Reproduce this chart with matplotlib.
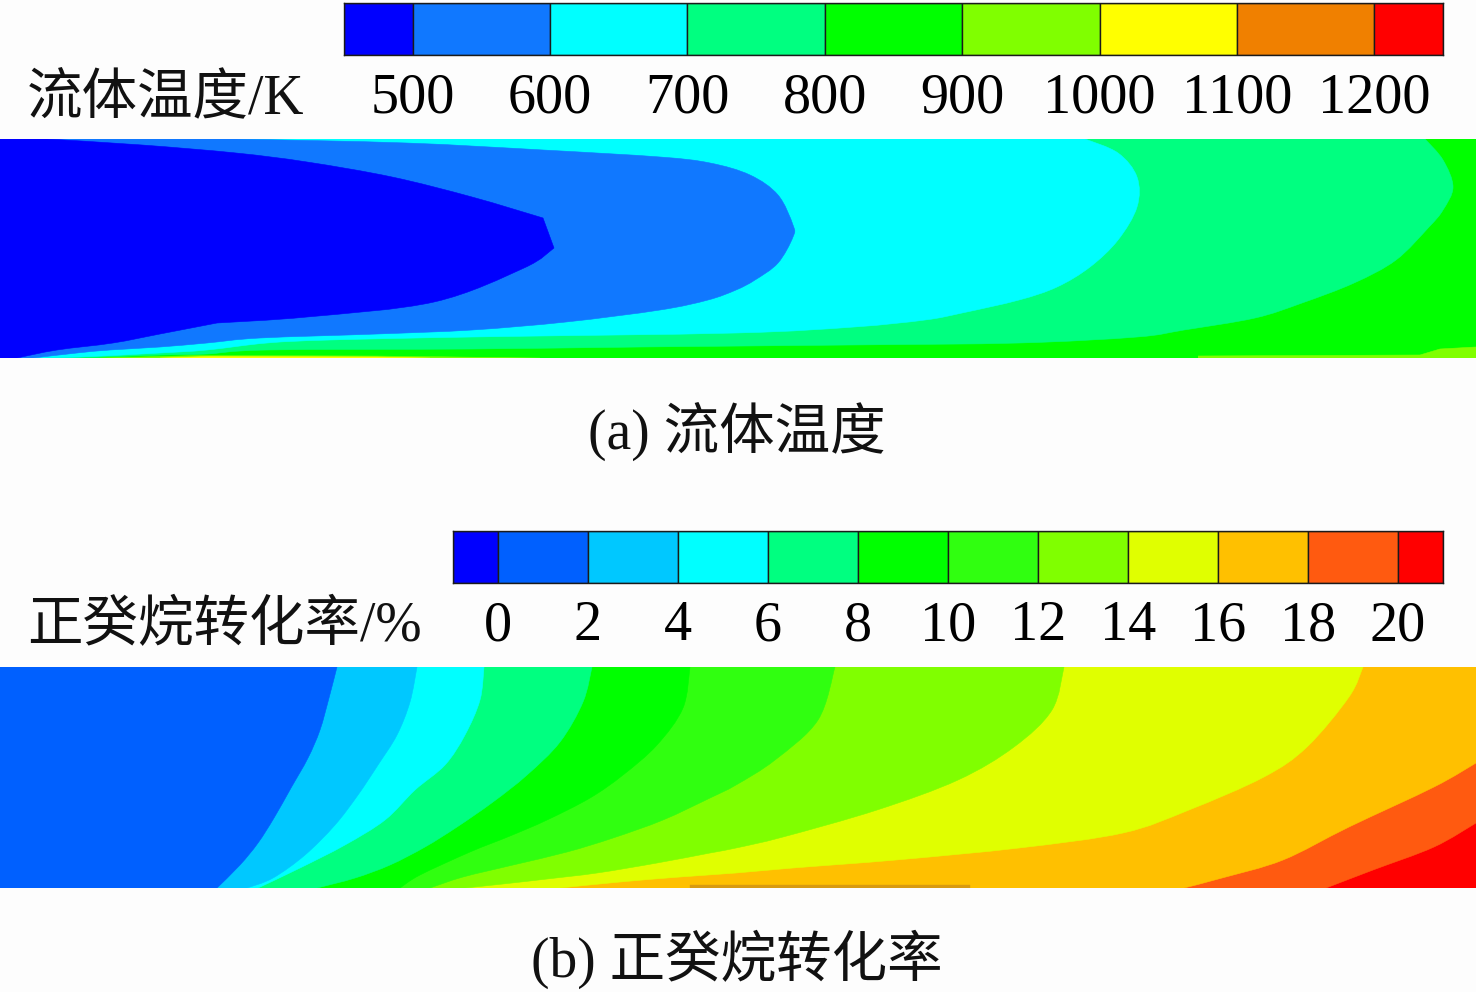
import matplotlib
matplotlib.use("Agg")
import matplotlib.pyplot as plt
from matplotlib.path import Path
from matplotlib.patches import PathPatch

plt.rcParams['font.family'] = ['Liberation Serif', 'Noto Sans CJK SC']

W, H = 1476, 992

# colour scales
temp_levels = [450, 500, 600, 700, 800, 900, 1000, 1100, 1200, 1250]
temp_ticks = [500, 600, 700, 800, 900, 1000, 1100, 1200]
temp_colors = ['#0000ff', '#1078ff', '#00ffff', '#00ff80', '#00ff00',
               '#80ff00', '#ffff00', '#f08000', '#ff0000']

conv_levels = [-1, 0, 2, 4, 6, 8, 10, 12, 14, 16, 18, 20, 21]
conv_ticks = [0, 2, 4, 6, 8, 10, 12, 14, 16, 18, 20]
conv_colors = ['#0000ff', '#0060ff', '#00c8ff', '#00ffff', '#00ff80', '#00ff00',
               '#30ff10', '#80ff00', '#e0ff00', '#ffc000', '#ff5a10', '#ff0000']

# temperature isolines, upper wall to lower wall
t500_up_x = [47, 142, 236, 307, 392, 472, 543]
t500_up_y = [139, 145, 153, 162, 177, 197, 218]
t500_low_x = [554, 524, 434, 307, 217]
t500_low_y = [248, 268, 302, 317, 323]
t500_end_x = [217, 160, 113, 57, 17]
t500_end_y = [323, 334, 343, 350, 358]
t600_x = [236, 406, 543, 660, 710, 750, 778, 793, 793, 778, 755, 736, 708, 660, 566, 472, 377,
          260, 207, 160, 110, 77, 33]
t600_y = [139, 143, 150, 157, 163, 175, 195, 225, 237, 263, 280, 290, 300, 310, 322, 330, 334,
          338, 343, 347, 350, 353, 358]
t700_x = [1085, 1118, 1137, 1137, 1118, 1090, 1057, 1019, 962, 925, 854, 736, 472, 330, 267, 207,
          160, 80, 35]
t700_y = [139, 153, 177, 207, 240, 267, 287, 300, 313, 320, 327, 333, 337, 340, 343, 350,
          353, 357, 358]
t800_x = [1425, 1443, 1453, 1443, 1429, 1396, 1354, 1302, 1255, 1184, 1137, 1019, 849, 640, 472,
          267, 207, 160, 80]
t800_y = [139, 160, 187, 210, 227, 260, 283, 303, 318, 330, 337, 343, 345, 347, 349,
          350, 354, 355, 358]
# thin warm strips along the lower wall
t900_left_x = [100, 200, 377, 540]
t900_left_y = [358, 355.5, 356, 358]
t1000_left_x = [160, 210, 377, 430]
t1000_left_y = [358, 356.5, 357, 358]
t900_right_x = [1198, 1420, 1440, 1476, 1476, 1198]
t900_right_y = [356, 355, 349, 347, 358, 358]

# conversion isolines, upper wall to lower wall
c0_x = [337, 329, 320, 308, 291, 274, 258, 240, 217]
c0_y = [667, 698, 730, 758, 788, 818, 843, 865, 888]
c2_x = [417, 410, 397, 378, 358, 335, 305, 273, 247]
c2_y = [667, 702, 735, 765, 795, 825, 855, 878, 888]
c4_x = [484, 480, 465, 445, 415, 385, 345, 300, 258]
c4_y = [667, 700, 735, 765, 790, 820, 845, 868, 888]
c6_x = [592, 583, 560, 527, 493, 457, 425, 390, 355, 317]
c6_y = [667, 702, 742, 775, 802, 827, 847, 865, 878, 888]
c8_x = [690, 683, 657, 623, 590, 547, 510, 470, 420, 400]
c8_y = [667, 708, 745, 775, 798, 820, 836, 852, 875, 888]
c10_x = [835, 818, 775, 736, 710, 663, 613, 567, 513, 463, 430]
c10_y = [667, 720, 760, 785, 798, 820, 838, 852, 865, 877, 888]
c12_x = [1064, 1052, 1014, 958, 877, 783, 736, 710, 657, 597, 547, 503, 465]
c12_y = [667, 710, 747, 780, 810, 837, 848, 853, 863, 873, 879, 884, 888]
c14_x = [1363, 1349, 1307, 1264, 1189, 1123, 1019, 896, 793, 736, 680, 620, 560]
c14_y = [667, 697, 747, 777, 810, 833, 848, 860, 868, 873, 877, 882, 888]
c16_x = [1476, 1434, 1349, 1283, 1222, 1184]
c16_y = [763, 787, 827, 860, 878, 888]
c18_x = [1476, 1434, 1373, 1326]
c18_y = [823, 847, 870, 888]
# darker streak on the lower wall
wall_x = [690, 970, 970, 690]
wall_y = [885, 885, 888, 888]


def px_axes(fig, x0, y0, x1, y1):
    # axes placed by picture pixels
    return fig.add_axes([x0 / W, 1 - y1 / H, (x1 - x0) / W, (y1 - y0) / H])


def colorbar(fig, box, levels, colors, ticks, pad):
    ax = px_axes(fig, *box)
    widths = [b - a for a, b in zip(levels[:-1], levels[1:])]
    ax.bar(levels[:-1], [1] * len(widths), width=widths, align='edge', color=colors,
           edgecolor='#1a1a1a', linewidth=1.0)
    ax.set_xlim(levels[0], levels[-1])
    ax.set_ylim(0, 1)
    ax.set_yticks([])
    ax.set_xticks(ticks)
    ax.tick_params(axis='x', length=0, pad=pad, labelsize=40.5)
    for s in ax.spines.values():
        s.set_linewidth(1.0)
        s.set_color('#1a1a1a')
    return ax


def curve_through(verts, codes, xs, ys):
    # bezier segments through the read points, so the isoline draws without facets
    verts.append((xs[0], ys[0]))
    codes.append(Path.LINETO)
    n = len(xs)
    for i in range(n - 1):
        a, b = max(i - 1, 0), min(i + 2, n - 1)
        verts.append((xs[i] + (xs[i + 1] - xs[a]) / 6, ys[i] + (ys[i + 1] - ys[a]) / 6))
        verts.append((xs[i + 1] - (xs[b] - xs[i]) / 6, ys[i + 1] - (ys[b] - ys[i]) / 6))
        verts.append((xs[i + 1], ys[i + 1]))
        codes += [Path.CURVE4] * 3


def region(pieces, top, bottom, right=None):
    # area between the inlet and an isoline; right = go round the upper outlet corner
    verts, codes = [(0, top)], [Path.MOVETO]
    if right is not None:
        verts.append((right, top))
        codes.append(Path.LINETO)
    for xs, ys in pieces:
        curve_through(verts, codes, xs, ys)
    verts += [(0, bottom), (0, top)]
    codes += [Path.LINETO, Path.CLOSEPOLY]
    return Path(verts, codes)


def field(fig, box, base, regions, strips):
    x0, y0, x1, y1 = box
    ax = px_axes(fig, x0, y0, x1, y1)
    ax.set_xlim(x0, x1)
    ax.set_ylim(y1, y0)
    ax.axis('off')
    ax.fill([x0, x1, x1, x0], [y0, y0, y1, y1], color=base, lw=0)
    for path, c in regions:
        ax.add_patch(PathPatch(path, facecolor=c, edgecolor=c, lw=0.4))
    for xs, ys, c in strips:
        ax.fill(xs, ys, color=c, lw=0.3)
    return ax


fig = plt.figure(figsize=(W / 100, H / 100), dpi=100, facecolor='#fdfdfd')

# (a) fluid temperature
colorbar(fig, (344, 3, 1443, 55), temp_levels, temp_colors, temp_ticks, 12.5)
a_top, a_bot = 139, 358
t500_pieces = [(t500_up_x, t500_up_y), (t500_low_x, t500_low_y), (t500_end_x, t500_end_y)]
field(fig, (0, a_top, 1476, a_bot), temp_colors[4], [
    (Path(list(zip(t900_right_x, t900_right_y))), temp_colors[5]),
    (region([(t800_x, t800_y)], a_top, a_bot), temp_colors[3]),
    (region([(t700_x, t700_y)], a_top, a_bot), temp_colors[2]),
    (region([(t600_x, t600_y)], a_top, a_bot), temp_colors[1]),
    (region(t500_pieces, a_top, a_bot), temp_colors[0]),
], [
    (t900_left_x, t900_left_y, temp_colors[5]),
    (t1000_left_x, t1000_left_y, temp_colors[6]),
])

# (b) n-decane conversion
colorbar(fig, (453, 531, 1443, 583), conv_levels, conv_colors, conv_ticks, 12.5)
b_top, b_bot = 667, 888
conv_lines = [(c18_x, c18_y, 10, 1476), (c16_x, c16_y, 9, 1476), (c14_x, c14_y, 8, None),
              (c12_x, c12_y, 7, None), (c10_x, c10_y, 6, None), (c8_x, c8_y, 5, None),
              (c6_x, c6_y, 4, None), (c4_x, c4_y, 3, None), (c2_x, c2_y, 2, None),
              (c0_x, c0_y, 1, None)]
regions = [(region([(xs, ys)], b_top, b_bot, right), conv_colors[i])
           for xs, ys, i, right in conv_lines]
field(fig, (0, b_top, 1476, b_bot), conv_colors[-1], regions, [(wall_x, wall_y, '#d89a10')])

txt = dict(fontsize=40, va='center', color='#111111', fontweight='light')
fig.text(27 / W, 1 - 99 / H, '流体温度/K', ha='left', **txt)
fig.text(27 / W, 1 - 627 / H, '正癸烷转化率/%', ha='left', **txt)
fig.text(737 / W, 1 - 431 / H, '(a) 流体温度', ha='center', **txt)
fig.text(737 / W, 1 - 959 / H, '(b) 正癸烷转化率', ha='center', **txt)

fig.savefig('out.png', dpi=100, facecolor=fig.get_facecolor())
